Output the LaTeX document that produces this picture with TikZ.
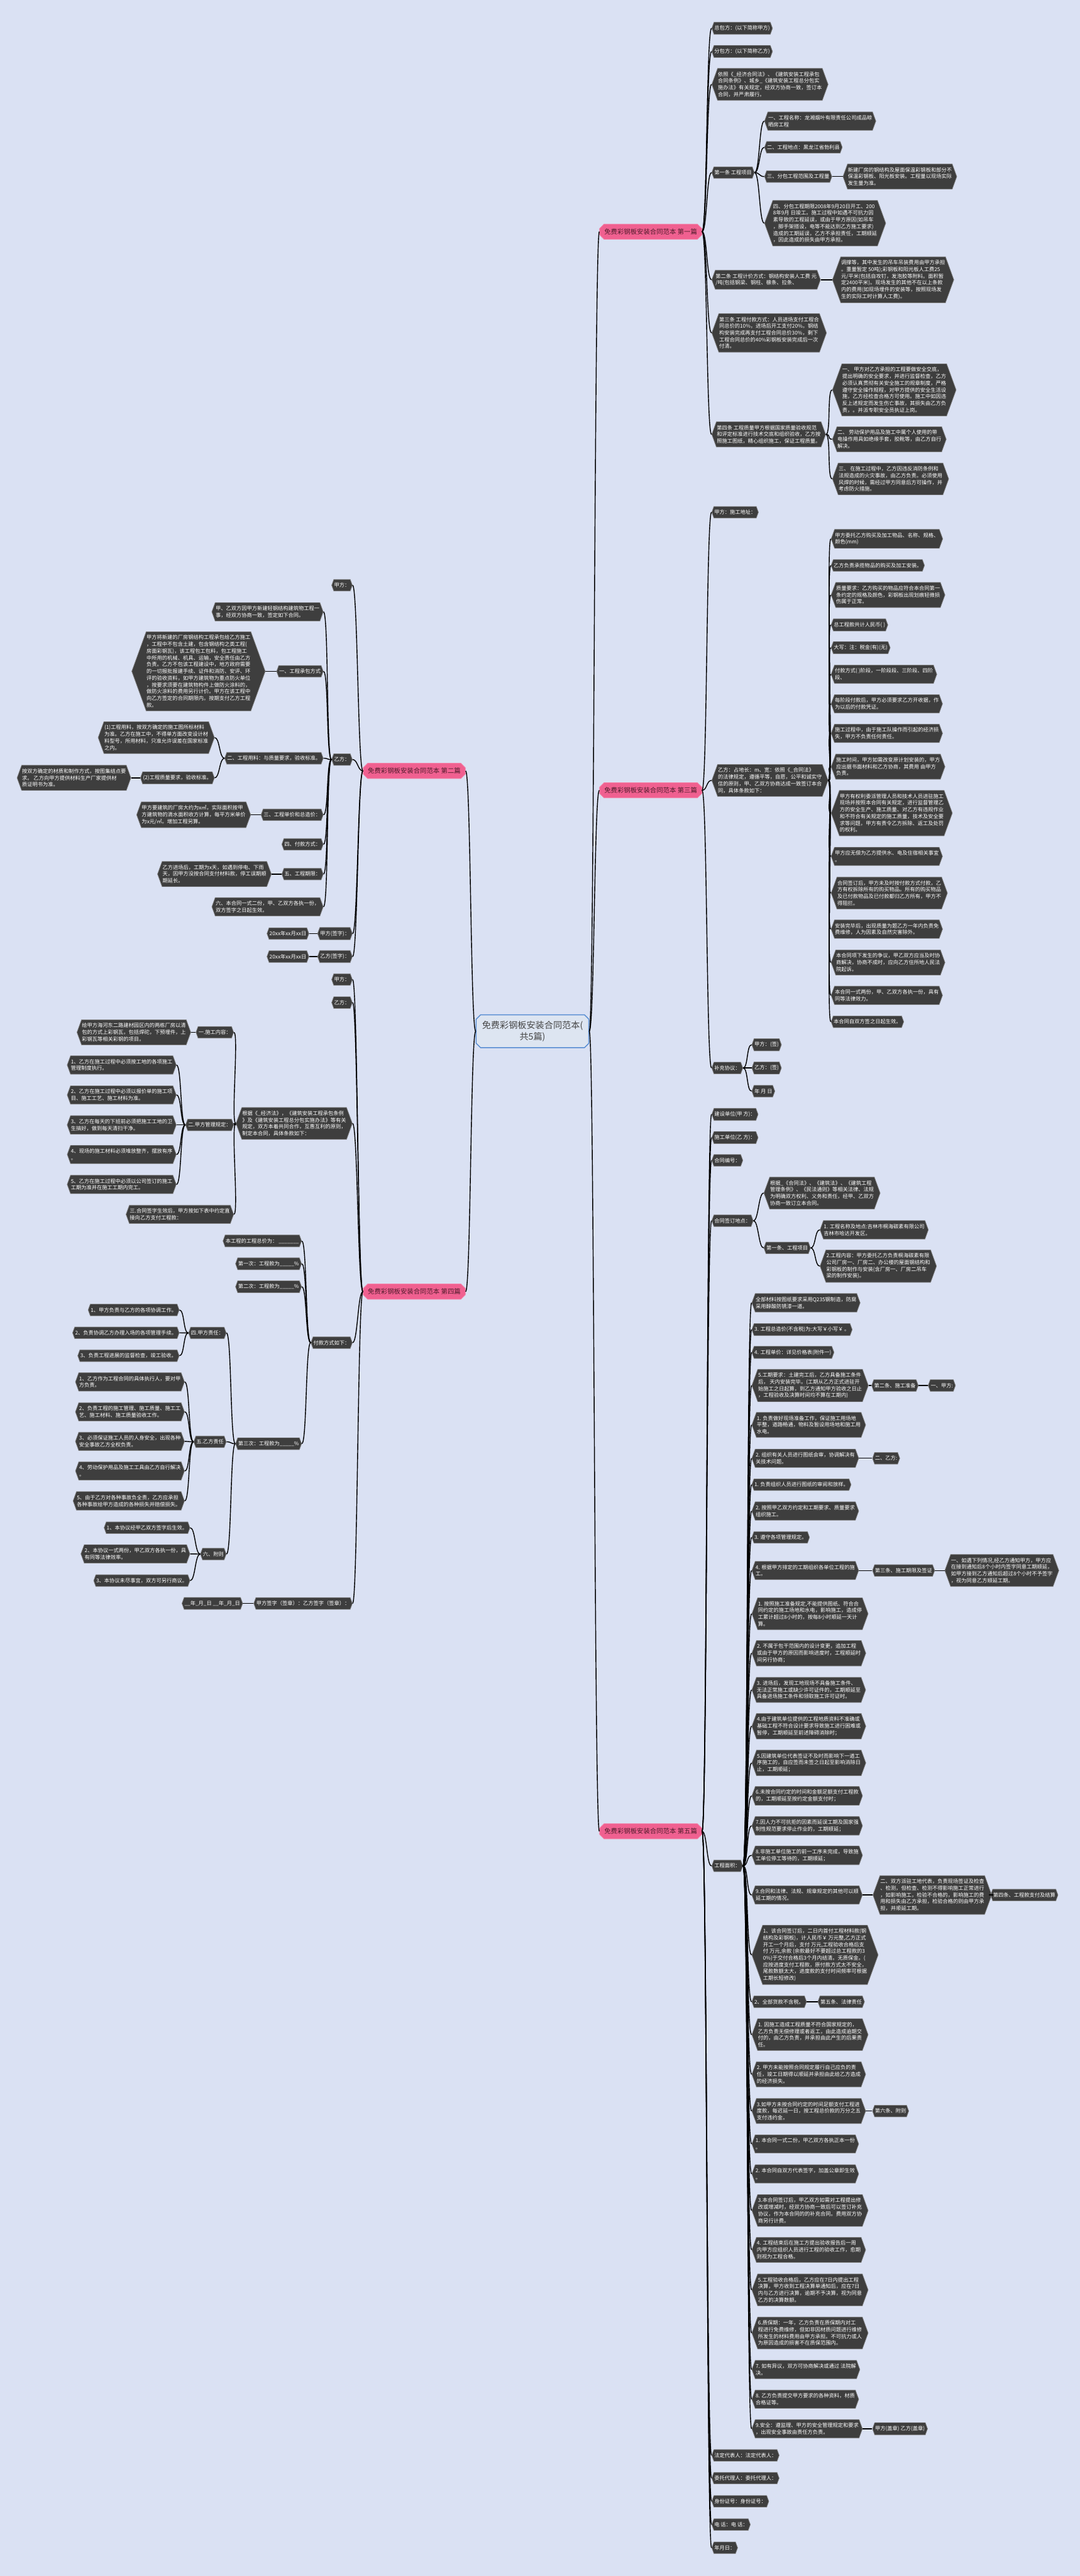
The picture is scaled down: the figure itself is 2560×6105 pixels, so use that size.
\documentclass[tikz,border=0pt]{standalone}
\usepackage{fontspec}
\setmainfont{Noto Sans CJK SC}
\usetikzlibrary{shapes.symbols,shapes.misc,calc}

\definecolor{bgblue}{RGB}{218,225,243}
\definecolor{leafgray}{RGB}{62,62,62}
\definecolor{leafedge}{RGB}{135,135,135}
\definecolor{pianpink}{RGB}{240,96,144}
\definecolor{piantext}{RGB}{80,28,44}
\definecolor{rootfill}{RGB}{221,229,241}
\definecolor{rootedge}{RGB}{86,140,210}
\definecolor{roottext}{RGB}{70,70,70}

\newcommand{\rlink}[2]{\draw[link] (#1.east) .. controls ($(#1.east)+(12,0)$) and ($(#2.west)+(-12,0)$) .. (#2.west);}
\newcommand{\llink}[2]{\draw[link] (#1.west) .. controls ($(#1.west)+(-12,0)$) and ($(#2.east)+(12,0)$) .. (#2.east);}

\begin{document}
\begin{tikzpicture}[x=0.01cm,y=-0.01cm,
    leaf/.style={shape=signal,signal to=east and west,signal pointer angle=140,
      fill=leafgray,draw=leafedge,line width=0.3pt,text=white,align=left,
      inner xsep=0.3pt,inner ysep=2.3pt,font=\fontsize{3.5pt}{4.55pt}\selectfont},
    rleaf/.style={leaf,anchor=west},
    lleaf/.style={leaf,anchor=east},
    pian/.style={chamfered rectangle,chamfered rectangle sep=1.5pt,fill=pianpink,
      draw=pianpink!80!white,line width=0.4pt,text=piantext,minimum width=2.42cm,
      minimum height=0.36cm,inner sep=1pt,font=\fontsize{4.4pt}{5pt}\selectfont},
    root/.style={chamfered rectangle,chamfered rectangle sep=1.5pt,fill=rootfill,
      draw=rootedge,line width=0.6pt,text=roottext,align=center,minimum width=2.67cm,
      minimum height=0.78cm,inner sep=1pt,font=\fontsize{6pt}{7.9pt}\selectfont},
    link/.style={draw=black,line width=0.6pt}
  ]
  \fill[bgblue] (0,0) rectangle (2560,6105);
  \useasboundingbox (0,0) rectangle (2560,6105);

  \node[root] (root) at (1262.5,2444) {免费彩钢板安装合同范本(\\共5篇)};

  % first
  \node[pian,anchor=west] (p1) at (1421,549) {免费彩钢板安装合同范本 第一篇};
  \node[rleaf] (p1a) at (1687,67) {总包方：(以下简称甲方)};
  \node[rleaf] (p1b) at (1687,122) {分包方：(以下简称乙方)};
  \node[rleaf] (p1c) at (1687,200) {依照《\_经济合同法》、《建筑安装工程承包\\合同条例》、城乡\_《建筑安装工程总分包实\\施办法》有关规定，经双方协商一致，签订本\\合同，并严肃履行。};
  \node[rleaf] (p1d) at (1687,409) {第一条 工程项目};
  \node[rleaf] (p1d1) at (1812,287) {一、工程名称：龙湘烟叶有限责任公司成品晾\\晒房工程};
  \node[rleaf] (p1d2) at (1812,349) {二、工程地点：黑龙江省勃利县};
  \node[rleaf] (p1d3) at (1812,418.5) {三、分包工程范围及工程量};
  \node[rleaf] (p1d3a) at (1998,418.5) {新建厂房的钢结构及屋面保温彩钢板和部分不\\保温彩钢板、阳光板安装。工程量以现场实际\\发生量为准。};
  \node[rleaf] (p1d4) at (1812,529) {四、分包工程期限2008年9月20日开工、200\\8年9月 日竣工。施工过程中如遇不可抗力因\\素导致的工程延误，或由于甲方原因(如吊车\\，脚手架搭设，电等不能达到乙方施工要求)\\造成的工期延误，乙方不承担责任，工期顺延\\，因此造成的损失由甲方承担。};
  \node[rleaf] (p1e) at (1687,663) {第二条 工程计价方式：钢结构安装人工费 元\\/吨(包括钢梁、钢柱、檩条、拉条、};
  \node[rleaf] (p1e1) at (1973,663) {调撑等，其中发生的吊车吊装费用由甲方承担\\。重量暂定 50吨);彩钢板和阳光板人工费25\\元/平米(包括自攻钉，发泡胶等附料。面积暂\\定2400平米)。现场发生的其他不在以上条款\\内的费用(如现场埋件的安装等，按照现场发\\生的实际工时计算人工费)。};
  \node[rleaf] (p1f) at (1687,789) {第三条 工程付款方式：人员进场支付工程合\\同总价的10\%，进场后开工支付20\%。钢结\\构安装完成再支付工程合同总价30\%，剩下\\工程合同总价的40\%彩钢板安装完成后一次\\付清。};
  \node[rleaf] (p1g) at (1687,1029.5) {第四条 工程质量甲方根据国家质量验收规范\\和评定标准进行技术交底和组织验收，乙方按\\照施工图纸，精心组织施工，保证工程质量。};
  \node[rleaf] (p1g1) at (1973,924) {一、 甲方对乙方承担的工程要做安全交底，\\提出明确的安全要求，并进行监督检查，乙方\\必须认真贯彻有关安全施工的规章制度，严格\\遵守安全操作规程，对甲方提供的安全生活设\\施，乙方经检查合格方可使用。施工中如因违\\反上述规定而发生伤亡事故，其损失由乙方负\\责，。并派专职安全员执证上岗。};
  \node[rleaf] (p1g2) at (1973,1041) {二、 劳动保护用品及施工中属个人使用的带\\电操作用具如绝缘手套，胶靴等，由乙方自行\\解决。};
  \node[rleaf] (p1g3) at (1973,1135) {三、 在施工过程中，乙方因违反消防条例和\\法规造成的火灾事故，由乙方负责。必须使用\\风焊的时候，需经过甲方同意后方可操作，并\\考虑防火措施。};

  % third
  \node[pian,anchor=west] (p3) at (1421,1873) {免费彩钢板安装合同范本 第三篇};
  \node[rleaf] (p3a) at (1687,1214) {甲方：施工地址：};
  \node[rleaf] (p3b) at (1687,1849.5) {乙方：占地长：m、宽：依照《\_合同法》\\的法律规定，遵循平等，自愿，公平和诚实守\\信的原则，甲、乙双方协商达成一致签订本合\\同，具体条款如下：};
  \node[rleaf] (q1) at (1970,1277) {甲方委托乙方购买及加工物品、名称、规格、\\颜色(mm)};
  \node[rleaf] (q2) at (1970,1340) {乙方负责承揽物品的购买及加工安装。};
  \node[rleaf] (q3) at (1970,1410) {质量要求：乙方购买的物品应符合本合同第一\\条约定的规格及颜色，彩钢板出现划痕轻微损\\伤属于正常。};
  \node[rleaf] (q4) at (1970,1481) {总工程款共计人民币( )};
  \node[rleaf] (q5) at (1970,1535) {大写：注：税金(有)(无)};
  \node[rleaf] (q6) at (1970,1598) {付款方式( )阶段，一阶段段、三阶段、四阶\\段、};
  \node[rleaf] (q7) at (1970,1668) {每阶段付款后，甲方必须要求乙方开收据，作\\为以后的付款凭证。};
  \node[rleaf] (q8) at (1970,1738) {施工过程中，由于施工队操作而引起的经济损\\失，甲方不负责任何责任。};
  \node[rleaf] (q9) at (1970,1817) {施工时间，甲方如需改变原计划安装的，甲方\\应出据书面材料和乙方协商，其费用 由甲方\\负责。};
  \node[rleaf] (q10) at (1970,1927) {甲方有权利委派管理人员和技术人员进驻施工\\现场并按照本合同有关规定，进行监督管理乙\\方的安全生产、施工质量、对乙方有违规作业\\和不符合有关规定的施工质量，技术及安全要\\求等问题，甲方有责令乙方拆除、返工及处罚\\的权利。};
  \node[rleaf] (q11) at (1970,2029.5) {甲方应无偿为乙方提供水、电及住宿相关事宜\\。};
  \node[rleaf] (q12) at (1970,2116.5) {合同签订后，甲方未及时按付款方式付款，乙\\方有权拆除所有的购买物品。所有的购买物品\\及已付款物品及已付款都归乙方所有，甲方不\\得阻拦。};
  \node[rleaf] (q13) at (1970,2202) {安装完毕后，出现质量为题乙方一年内负责免\\费维修，人为因素及自然灾害除外。};
  \node[rleaf] (q14) at (1970,2281) {本合同项下发生的争议，甲乙双方应当及时协\\商解决，协商不成时，应向乙方住所地人民法\\院起诉。};
  \node[rleaf] (q15) at (1970,2359) {本合同一式两份，甲、乙双方各执一份，具有\\同等法律效力。};
  \node[rleaf] (q16) at (1970,2421.5) {本合同自双方签之日起生效。};
  \node[rleaf] (p3c) at (1687,2531) {补充协议：};
  \node[rleaf] (p3c1) at (1782,2476) {甲方：(签)};
  \node[rleaf] (p3c2) at (1782,2531) {乙方：(签)};
  \node[rleaf] (p3c3) at (1782,2586) {年 月 日};

  % fifth
  \node[pian,anchor=west] (p5) at (1421,4340) {免费彩钢板安装合同范本 第五篇};
  \node[rleaf] (p5a) at (1687,2641) {建设单位(甲 方)：};
  \node[rleaf] (p5b) at (1687,2696) {施工单位(乙 方)：};
  \node[rleaf] (p5c) at (1687,2750) {合同编号：};
  \node[rleaf] (p5d) at (1687,2893) {合同签订地点：};
  \node[rleaf] (p5d1) at (1810.5,2827.5) {根据\_《合同法》、《建筑法》、《建筑工程\\管理条例》、《民法通则》等相关法律、法规\\为明确双方权利、义务和责任，经甲、乙双方\\协商一致订立本合同。};
  \node[rleaf] (p5d2) at (1810.5,2957.5) {第一条、工程项目};
  \node[rleaf] (p5d2a) at (1943.6,2914.6) {1. 工程名称及地点:吉林市桐海碳素有限公司\\吉林市哈达开发区。};
  \node[rleaf] (p5d2b) at (1943.6,3000.6) {2.工程内容：甲方委托乙方负责桐海碳素有限\\公司厂房一、厂房二、办公楼的屋面钢结构和\\彩钢板的制作与安装(含厂房一、厂房二吊车\\梁的制作安装)。};
  \node[rleaf] (p5e) at (1687,4422) {工程面积：};
  \node[rleaf] (m1) at (1782,3087.5) {全部材料按图纸要求采用Q235钢制造，防腐\\采用醇酸防锈漆一道。};
  \node[rleaf] (m2) at (1782,3151) {3. 工程总造价(不含税)为:大写￥小写￥ 。};
  \node[rleaf] (m3) at (1782,3205) {4. 工程单价：详见价格表(附件一)};
  \node[rleaf] (m4) at (1782,3283.5) {5.工期要求：土建完工后，乙方具备施工条件\\后， 天内安装完毕。(工期从乙方正式进驻开\\始施工之日起算，到乙方通知甲方验收之日止\\，工程验收及决算时间均不算在工期内)};
  \node[rleaf] (m4a) at (2066,3283.5) {第二条、施工准备};
  \node[rleaf] (m4b) at (2200,3283.5) {一、甲方:};
  \node[rleaf] (m5) at (1782,3377) {1. 负责做好现场准备工作，保证施工用场地\\平整，道路畅通，物料及暂设用场地和施工用\\水电。};
  \node[rleaf] (m6) at (1782,3456) {2. 组织有关人员进行图纸会审，协调解决有\\关技术问题。};
  \node[rleaf] (m6a) at (2068,3456) {二、乙方:};
  \node[rleaf] (m7) at (1782,3518.5) {1. 负责组织人员进行图纸的审阅和放样。};
  \node[rleaf] (m8) at (1782,3581) {2. 按照甲乙双方约定和工期要求、质量要求\\组织施工。};
  \node[rleaf] (m9) at (1782,3643.5) {3. 遵守各项管理规定。};
  \node[rleaf] (m10) at (1782,3722) {4. 根据甲方排定的工期组织各单位工程的施\\工。};
  \node[rleaf] (m10a) at (2068,3722) {第三条、施工期限及签证};
  \node[rleaf] (m10b) at (2239.5,3722) {一、如遇下列情况,经乙方通知甲方，甲方应\\在接到通知后8个小时内签字同意工期顺延，\\如甲方接到乙方通知后超过8个小时不予签字\\，视为同意乙方顺延工期。};
  \node[rleaf] (m11) at (1782,3824.5) {1. 按照施工准备规定,不能提供图纸、符合合\\同约定的施工场地和水电，影响施工，造成停\\工累计超过8小时的，按每8小时顺延一天计\\算。};
  \node[rleaf] (m12) at (1782,3918) {2. 不属于包干范围内的设计变更，追加工程\\或由于甲方的原因而影响进度时，工程顺延时\\间另行协商；};
  \node[rleaf] (m13) at (1782,4005) {3. 进场后，发现工地现场不具备施工条件、\\无法正常施工或缺少许可证件的，工期顺延至\\具备进场施工条件和领取施工许可证时。};
  \node[rleaf] (m14) at (1782,4091) {4.由于建筑单位提供的工程地质资料不准确或\\基础工程不符合设计要求导致施工进行困难或\\暂停，工期顺延至前述障碍消除时；};
  \node[rleaf] (m15) at (1782,4178) {5.因建筑单位代表签证不及时而影响下一道工\\序施工的，自应签而未签之日起至影响消除日\\止，工期顺延；};
  \node[rleaf] (m16) at (1782,4256) {6.未按合同约定的时间和金额足额支付工程款\\的，工期顺延至按约定金额支付时；};
  \node[rleaf] (m17) at (1782,4327) {7.因人力不可抗拒的因素而延误工期及国家强\\制性规范要求停止作业的，工期顺延；};
  \node[rleaf] (m18) at (1782,4397) {8.非施工单位施工的前一工序未完成，导致施\\工单位停工等待的，工期顺延；};
  \node[rleaf] (m19) at (1782,4491) {9.合同和法律、法规、规章规定的其他可以顺\\延工期的情况。};
  \node[rleaf] (m19a) at (2069,4491) {二、双方派驻工地代表，负责现场签证及检查\\、检测，但检查、检测不得影响施工正常进行\\，如影响施工，检验不合格的，影响施工的费\\用和损失由乙方承担，检验合格的则由甲方承\\担，并顺延工期。};
  \node[rleaf] (m19b) at (2348,4491) {第四条、工程款支付及结算};
  \node[rleaf] (m20) at (1782,4633) {1、该合同签订后，二日内首付工程材料款(钢\\结构及彩钢板)，计人民币￥ 万元整,乙方正式\\开工一个月后，支付 万元,工程验收合格后支\\付 万元,余款 (余款最好不要超过总工程款的3\\0\%)于交付合格后3个月内结清。无质保金。(\\应按进度支付工程款，原付款方式太不安全，\\尾款数额太大，进度款的支付时间频率可根据\\工期长短修改)};
  \node[rleaf] (m21) at (1782,4744) {2、全部货款不含税。};
  \node[rleaf] (m21a) at (1938.5,4744) {第五条、法律责任};
  \node[rleaf] (m22) at (1782,4822) {1. 因施工造成工程质量不符合国家规定的，\\乙方负责无偿修理或者返工，由此造成逾期交\\付的，由乙方负责，并承担由此产生的后果责\\任。};
  \node[rleaf] (m23) at (1782,4916) {2. 甲方未能按照合同规定履行自己应负的责\\任，竣工日期得以顺延并承担由此给乙方造成\\的经济损失。};
  \node[rleaf] (m24) at (1782,5003) {3.如甲方未按合同约定的时间足额支付工程进\\度款，每迟延一日，按工程总价款的万分之五\\支付违约金。};
  \node[rleaf] (m24a) at (2068,5003) {第六条、附则};
  \node[rleaf] (m25) at (1782,5081) {1. 本合同一式二份，甲乙双方各执正本一份\\。};
  \node[rleaf] (m26) at (1782,5152) {2. 本合同自双方代表签字，加盖公章即生效\\。};
  \node[rleaf] (m27) at (1782,5238.6) {3.本合同签订后，甲乙双方如需对工程提出修\\改或增减时，经双方协商一致后可以签订补充\\协议，作为本合同的的补充合同。费用双方协\\商另行计费。};
  \node[rleaf] (m28) at (1782,5332) {4. 工程结束后在施工方提出验收报告后一周\\内甲方应组织人员进行工程的验收工作，愈期\\则视为工程合格。};
  \node[rleaf] (m29) at (1782,5427) {5.工程验收合格后，乙方应在7日内提出工程\\决算，甲方收到工程决算单通知后，应在7日\\内与乙方进行决算，逾期不予决算，视为同意\\乙方的决算数额。};
  \node[rleaf] (m30) at (1782,5529) {6.质保期：一年，乙方负责在质保期内对工\\程进行免费维修，但如非因材质问题进行维修\\所发生的材料费用由甲方承担。不可抗力或人\\为原因造成的损害不在质保范围内。};
  \node[rleaf] (m31) at (1782,5615.6) {7. 如有异议，双方可协商解决或通过 法院解\\决。};
  \node[rleaf] (m32) at (1782,5686) {8. 乙方负责提交甲方要求的各种资料，材质\\合格证等。};
  \node[rleaf] (m33) at (1782,5756) {9.安全：遵监理、甲方的安全管理规定和要求\\，出现安全事故由责任方负责。};
  \node[rleaf] (m33a) at (2068,5756) {甲方(盖章) 乙方(盖章)};
  \node[rleaf] (p5f) at (1687,5819) {法定代表人：法定代表人：};
  \node[rleaf] (p5g) at (1687,5873) {委托代理人：委托代理人：};
  \node[rleaf] (p5h) at (1687,5928) {身份证号：身份证号：};
  \node[rleaf] (p5i) at (1687,5983) {电 话：电 话：};
  \node[rleaf] (p5j) at (1687,6038) {年月日：};

  % second
  \node[pian,anchor=east] (p2) at (1104,1827) {免费彩钢板安装合同范本 第二篇};
  \node[lleaf] (p2a) at (836,1387) {甲方：};
  \node[lleaf] (p2b) at (836,1800) {乙方：};
  \node[lleaf] (p2b1) at (767,1450) {甲、乙双方因甲方新建轻钢结构建筑物工程一\\事，经双方协商一致，签定如下合同。};
  \node[lleaf] (p2b2) at (767,1591) {一、工程承包方式};
  \node[lleaf] (p2b2a) at (629.5,1591) {甲方将新建的厂房钢结构工程承包给乙方施工\\，工程中不包含土建，包含钢结构之类工程(\\房面彩钢瓦)，该工程包工包料，包工程施工\\中所用的机械、机具、运输，安全责任由乙方\\负责。乙方不包该工程建设中，地方政府需要\\的一切报批报建手续、证件和消防、安评、环\\评的验收资料，如甲方建筑物为重点防火单位\\，按要求须要在建筑物构件上做防火涂料的，\\做防火涂料的费用另行计价。甲方在该工程中\\向乙方签定的合同期限内。按期支付乙方工程\\款。};
  \node[lleaf] (p2b3) at (767,1797) {二、工程用料：与质量要求，验收标准。};
  \node[lleaf] (p2b3a) at (509,1748) {(1)工程用料，按双方确定的施工图所标材料\\为准。乙方在施工中，不得单方面改变设计材\\料型号，所用材料，只准允许误差在国家标准\\之内。};
  \node[lleaf] (p2b3b) at (509,1843.5) {(2)工程质量要求，验收标准。};
  \node[lleaf] (p2b3c) at (311,1843.5) {按双方确定的材质和制作方式，按图集结点要\\求。 乙方向甲方提供材料生产厂家提供材\\质证明书为准。};
  \node[lleaf] (p2b4) at (767,1931) {三、工程单价和总造价：};
  \node[lleaf] (p2b4a) at (595,1931) {甲方要建筑的厂房大约为x㎡，实际面积按甲\\方建筑物的滴水面积收方计算，每平方米单价\\为x元/㎡。增加工程另算。};
  \node[lleaf] (p2b5) at (767,2001) {四、付款方式：};
  \node[lleaf] (p2b6) at (767,2071.5) {五、工程期限：};
  \node[lleaf] (p2b6a) at (644,2071.5) {乙方进场后，工期为x天，如遇到停电、下雨\\天，因甲方没按合同支付材料款，停工误期顺\\期延长。};
  \node[lleaf] (p2b7) at (767,2149) {六、本合同一式二份，甲、乙双方各执一份，\\双方签字之日起生效。};
  \node[lleaf] (p2c) at (836,2212.5) {甲方(签字)：};
  \node[lleaf] (p2c1) at (733,2212.5) {20xx年xx月xx日};
  \node[lleaf] (p2d) at (836,2267) {乙方(签字)：};
  \node[lleaf] (p2d1) at (733,2267) {20xx年xx月xx日};

  % fourth
  \node[pian,anchor=east] (p4) at (1104,3061) {免费彩钢板安装合同范本 第四篇};
  \node[lleaf] (p4a) at (836,2321.5) {甲方：};
  \node[lleaf] (p4b) at (836,2376) {乙方：};
  \node[lleaf] (p4c) at (836,2662.5) {根据《\_经济法》，《建筑安装工程承包条例\\》及《建筑安装工程总分包实施办法》等有关\\规定，双方本着共同合作，互惠互利的原则，\\制定本合同，具体条款如下：};
  \node[lleaf] (p4c1) at (554.6,2446.5) {一.施工内容：};
  \node[lleaf] (p4c1a) at (453,2446.5) {给甲方海河东二路建材园区内的两栋厂房以清\\包的方式上彩钢瓦，包括焊砣，下预埋件，上\\彩钢瓦等相关彩钢的项目。};
  \node[lleaf] (p4c2) at (554.6,2666) {二.甲方管理规定：};
  \node[lleaf] (p4c2a) at (418.5,2524) {1、乙方在施工过程中必须按工地的各项施工\\管理制度执行。};
  \node[lleaf] (p4c2b) at (418.5,2595) {2、乙方在施工过程中必须以报价单的施工项\\目、施工工艺、施工材料为准。};
  \node[lleaf] (p4c2c) at (418.5,2666) {3、乙方在每天的下班前必须把施工工地的卫\\生搞好，做到每天清扫干净。};
  \node[lleaf] (p4c2d) at (418.5,2736) {4、现场的施工材料必须堆放整齐，摆放有序\\。};
  \node[lleaf] (p4c2e) at (418.5,2807) {5、乙方在施工过程中必须以公司签订的施工\\工期为准并在施工工期内完工。};
  \node[lleaf] (p4c3) at (554.6,2878) {三.合同签字生效后，甲方按如下表中约定直\\接向乙方支付工程款：};
  \node[lleaf] (p4d) at (836,3182) {付款方式如下：};
  \node[lleaf] (p4d1) at (715.6,2941) {本工程的工程总价为： \_\_\_\_\_\_\_};
  \node[lleaf] (p4d2) at (715.6,2995) {第一次：工程款为\_\_\_\_\_\%};
  \node[lleaf] (p4d3) at (715.6,3049.5) {第二次：工程款为\_\_\_\_\_\%};
  \node[lleaf] (p4d4) at (715.6,3421.5) {第三次：工程款为\_\_\_\_\_\%};
  \node[lleaf] (p4e1) at (537,3159) {四.甲方责任：};
  \node[lleaf] (p4e1a) at (425.5,3104.5) {1、甲方负责与乙方的各项协调工作。};
  \node[lleaf] (p4e1b) at (425.5,3158.7) {2、负责协调乙方办理入场的各项管理手续。};
  \node[lleaf] (p4e1c) at (425.5,3213) {3、负责工程进展的监督检查，竣工验收。};
  \node[lleaf] (p4e2) at (537,3417) {五.乙方责任};
  \node[lleaf] (p4e2a) at (438,3275) {1、乙方作为工程合同的具体执行人，要对甲\\方负责。};
  \node[lleaf] (p4e2b) at (438,3346) {2、负责工程的施工管理、施工质量、施工工\\艺、施工材料、施工质量验收工作。};
  \node[lleaf] (p4e2c) at (438,3416) {3、必须保证施工人员的人身安全，出现各种\\安全事故乙方全权负责。};
  \node[lleaf] (p4e2d) at (438,3486) {4、劳动保护用品及施工工具由乙方自行解决\\。};
  \node[lleaf] (p4e2e) at (438,3557) {5、由于乙方对各种事故负全责，乙方应承担\\各种事故给甲方造成的各种损失并赔偿损失。};
  \node[lleaf] (p4e3) at (537,3683) {六、附则};
  \node[lleaf] (p4e3a) at (451,3620.6) {1、本协议经甲乙双方签字后生效。};
  \node[lleaf] (p4e3b) at (451,3682.6) {2、本协议一式两份，甲乙双方各执一份，具\\有同等法律效率。};
  \node[lleaf] (p4e3c) at (451,3746) {3、本协议未尽事宜，双方可另行商议。};
  \node[lleaf] (p4f) at (836,3800) {甲方签字（签章）：乙方签字（签章）：};
  \node[lleaf] (p4f1) at (576,3800) {\_\_年\_月\_日 \_\_年\_月\_日};

  % connectors
  \foreach \c in {p1,p3,p5} {\rlink{root}{\c}}
  \foreach \c in {p2,p4} {\llink{root}{\c}}
  \foreach \c in {p1a,p1b,p1c,p1d,p1e,p1f,p1g} {\rlink{p1}{\c}}
  \foreach \c in {p1d1,p1d2,p1d3,p1d4} {\rlink{p1d}{\c}}
  \rlink{p1d3}{p1d3a}
  \rlink{p1e}{p1e1}
  \foreach \c in {p1g1,p1g2,p1g3} {\rlink{p1g}{\c}}
  \foreach \c in {p3a,p3b,p3c} {\rlink{p3}{\c}}
  \foreach \i in {1,...,16} {\rlink{p3b}{q\i}}
  \foreach \c in {p3c1,p3c2,p3c3} {\rlink{p3c}{\c}}
  \foreach \c in {p5a,p5b,p5c,p5d,p5e,p5f,p5g,p5h,p5i,p5j} {\rlink{p5}{\c}}
  \foreach \c in {p5d1,p5d2} {\rlink{p5d}{\c}}
  \foreach \c in {p5d2a,p5d2b} {\rlink{p5d2}{\c}}
  \foreach \i in {1,...,33} {\rlink{p5e}{m\i}}
  \rlink{m4}{m4a} \rlink{m4a}{m4b}
  \rlink{m6}{m6a}
  \rlink{m10}{m10a} \rlink{m10a}{m10b}
  \rlink{m19}{m19a} \rlink{m19a}{m19b}
  \rlink{m21}{m21a}
  \rlink{m24}{m24a}
  \rlink{m33}{m33a}
  \foreach \c in {p2a,p2b,p2c,p2d} {\llink{p2}{\c}}
  \foreach \c in {p2b1,p2b2,p2b3,p2b4,p2b5,p2b6,p2b7} {\llink{p2b}{\c}}
  \llink{p2b2}{p2b2a}
  \foreach \c in {p2b3a,p2b3b} {\llink{p2b3}{\c}}
  \llink{p2b3b}{p2b3c}
  \llink{p2b4}{p2b4a}
  \llink{p2b6}{p2b6a}
  \llink{p2c}{p2c1}
  \llink{p2d}{p2d1}
  \foreach \c in {p4a,p4b,p4c,p4d,p4f} {\llink{p4}{\c}}
  \foreach \c in {p4c1,p4c2,p4c3} {\llink{p4c}{\c}}
  \llink{p4c1}{p4c1a}
  \foreach \c in {p4c2a,p4c2b,p4c2c,p4c2d,p4c2e} {\llink{p4c2}{\c}}
  \foreach \c in {p4d1,p4d2,p4d3,p4d4} {\llink{p4d}{\c}}
  \foreach \c in {p4e1,p4e2,p4e3} {\llink{p4d4}{\c}}
  \foreach \c in {p4e1a,p4e1b,p4e1c} {\llink{p4e1}{\c}}
  \foreach \c in {p4e2a,p4e2b,p4e2c,p4e2d,p4e2e} {\llink{p4e2}{\c}}
  \foreach \c in {p4e3a,p4e3b,p4e3c} {\llink{p4e3}{\c}}
  \llink{p4f}{p4f1}
\end{tikzpicture}
\end{document}
